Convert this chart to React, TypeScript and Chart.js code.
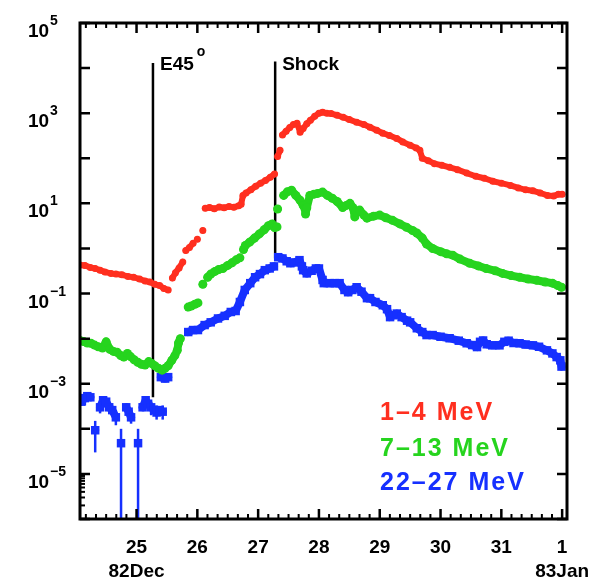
import React, { useEffect, useRef } from 'react';
import { Chart, registerables } from 'chart.js';

Chart.register(...registerables);

// ---------------- data (day of Dec 1982; 32 = 1 Jan 1983) ----------------
const redDay = [
  24.07, 24.15, 24.24, 24.32, 24.40, 24.48, 24.58, 24.66, 24.76, 24.86, 24.95, 25.05, 25.14, 25.22, 25.30, 25.38, 25.45, 25.52, 25.52,
  25.59, 25.64, 25.70, 25.76, 25.76,
  25.81, 25.87, 25.93, 25.93,
  26.00, 26.00,
  26.09, 26.09,
  26.13, 26.20, 26.28, 26.36, 26.44, 26.52, 26.60, 26.68, 26.72, 26.75, 26.80, 26.88, 26.96, 27.04, 27.12, 27.20, 27.27, 27.27,
  27.32, 27.36, 27.36,
  27.40, 27.46, 27.52, 27.58, 27.64, 27.69, 27.74, 27.80, 27.86, 27.93, 28.00, 28.06, 28.13, 28.20, 28.30, 28.40, 28.50, 28.62,
  28.74, 28.84, 28.95, 29.05, 29.16, 29.28, 29.38, 29.50, 29.60, 29.66, 29.70, 29.80, 29.90, 30.02, 30.15, 30.28, 30.43, 30.58,
  30.72, 30.86, 31.00, 31.15, 31.28, 31.40, 31.52, 31.64, 31.76, 31.86, 31.94, 32.00,
];
const redFlux = [
  0.43, 0.42, 0.38, 0.36, 0.33, 0.30, 0.28, 0.27, 0.26, 0.24, 0.23, 0.21, 0.19, 0.18, 0.16, 0.15, 0.13, 0.12, null,
  0.22, 0.29, 0.37, 0.50, null,
  0.90, 1.05, 1.3, null,
  1.6, null,
  2.5, null,
  7.8, 8.1, 7.6, 8.3, 8.0, 8.5, 8.2, 8.8, 9.5, 15, 17, 20, 24, 28, 32, 38, 45, null,
  110, 150, null,
  330, 400, 480, 560, 600, 380, 460, 580, 700, 850, 1000, 1050, 1000, 980, 900, 810, 720, 630,
  560, 490, 420, 360, 320, 275, 230, 195, 170, 150, 100, 88, 76, 70, 63, 56, 47, 40,
  36, 31, 28, 25, 22, 20, 19, 17, 15, 14.5, 16, 16,
];

const greenDay = [
  24.07, 24.13, 24.19, 24.25, 24.31, 24.37, 24.44, 24.50, 24.56, 24.62, 24.68, 24.74, 24.79, 24.85, 24.90, 24.96, 25.02, 25.08,
  25.14, 25.20, 25.25, 25.30, 25.36, 25.42, 25.47, 25.52, 25.58, 25.63, 25.67, 25.69, 25.72, 25.72,
  25.85, 25.90, 25.96, 26.01, 26.01,
  26.09, 26.09,
  26.17, 26.22, 26.29, 26.35, 26.42, 26.50, 26.57, 26.64, 26.70, 26.70,
  26.76, 26.79, 26.86, 26.94, 27.02, 27.10, 27.17, 27.23, 27.27, 27.31, 27.31,
  27.32, 27.32,
  27.42, 27.48, 27.55, 27.62, 27.69, 27.74, 27.77, 27.78, 27.80, 27.85, 27.92, 27.98, 28.06, 28.14, 28.22, 28.30, 28.39, 28.45,
  28.51, 28.56, 28.59, 28.61, 28.67, 28.74, 28.79, 28.90, 29.00, 29.10, 29.21, 29.33, 29.44, 29.54, 29.61, 29.70, 29.77, 29.87,
  30.00, 30.10, 30.20, 30.32, 30.48, 30.62, 30.75, 30.90, 31.02, 31.16, 31.30, 31.44, 31.58, 31.72, 31.84, 31.93, 31.99,
];
const greenFlux = [
  0.0091, 0.0086, 0.0080, 0.0079, 0.0072, 0.0066, 0.0062, 0.0085, 0.0058, 0.0052, 0.0050, 0.0042, 0.0039, 0.0047, 0.0040, 0.0034, 0.0030, 0.0027,
  0.0026, 0.0031, 0.0028, 0.0025, 0.0022, 0.0020, 0.0022, 0.0025, 0.0033, 0.0042, 0.0055, 0.0080, 0.010, null,
  0.050, 0.053, 0.058, 0.062, null,
  0.16, null,
  0.23, 0.27, 0.31, 0.34, 0.36, 0.42, 0.48, 0.56, 0.62, null,
  0.95, 1.17, 1.38, 1.7, 2.1, 2.6, 3.2, 3.5, 2.9, 3.0, null,
  7.5, null,
  15, 18, 19.5, 15, 11.7, 9, 7.6, 5.8, 8, 15, 16, 16.6, 17.8, 15, 13, 11, 8.1, 9,
  10, 8, 5.0, 6.5, 7.1, 5.5, 4.7, 5.2, 5.5, 4.8, 4.2, 3.5, 2.95, 2.5, 2.2, 1.7, 1.25, 1.0,
  0.85, 0.76, 0.71, 0.58, 0.47, 0.41, 0.36, 0.32, 0.28, 0.25, 0.23, 0.21, 0.197, 0.18, 0.17, 0.15, 0.138,
];

const blueDay = [
  24.09, 24.15, 24.19, 24.24, 24.24,
  24.32, 24.32,
  24.40, 24.45, 24.50, 24.55, 24.60, 24.66, 24.66,
  24.745, 24.745,
  24.83, 24.87, 24.91, 24.91,
  25.025, 25.025,
  25.10, 25.15, 25.19, 25.24, 25.29, 25.33, 25.38, 25.43, 25.43,
  25.40, 25.47, 25.52, 25.52,
  25.85, 25.93, 26.01, 26.12, 26.22, 26.34, 26.45, 26.55, 26.63, 26.70, 26.78, 26.87, 26.95, 27.03, 27.11, 27.19, 27.26, 27.26,
  27.33, 27.40, 27.47, 27.53, 27.60, 27.68, 27.72, 27.74, 27.80, 27.88, 27.95, 28.00, 28.06, 28.08, 28.18, 28.26, 28.34, 28.42,
  28.48, 28.55, 28.62, 28.70, 28.79, 28.84, 28.93, 29.05, 29.12, 29.17, 29.22, 29.28, 29.36, 29.45, 29.50, 29.61, 29.70, 29.77,
  29.87, 30.00, 30.15, 30.30, 30.43, 30.52, 30.60, 30.65, 30.70, 30.76, 30.85, 30.97, 31.05, 31.12, 31.20, 31.30, 31.40, 31.52,
  31.62, 31.75, 31.84, 31.91, 31.97, 31.99,
];
const blueFlux = [
  4.0e-4, 4.8e-4, 5.3e-4, 5.0e-4, null,
  9.3e-5, null,
  3.0e-4, 4.3e-4, 4.0e-4, 3.0e-4, 2.6e-4, 1.8e-4, null,
  4.8e-5, null,
  3.0e-4, 2.4e-4, 1.8e-4, null,
  4.8e-5, null,
  3.0e-4, 4.3e-4, 3.6e-4, 3.0e-4, 2.6e-4, 2.3e-4, 2.6e-4, 2.4e-4, null,
  1.4e-3, 1.3e-3, 1.4e-3, null,
  0.014, 0.0155, 0.0155, 0.020, 0.023, 0.028, 0.032, 0.039, 0.041, 0.065, 0.12, 0.17, 0.23, 0.27, 0.33, 0.36, 0.40, null,
  0.64, 0.60, 0.52, 0.47, 0.49, 0.55, 0.40, 0.33, 0.28, 0.32, 0.36, 0.36, 0.20, 0.17, 0.17, 0.17, 0.17, 0.12,
  0.107, 0.12, 0.138, 0.11, 0.079, 0.079, 0.065, 0.055, 0.045, 0.030, 0.033, 0.036, 0.030, 0.025, 0.023, 0.017, 0.014, 0.012,
  0.012, 0.011, 0.0102, 0.0090, 0.0079, 0.0072, 0.0065, 0.0085, 0.0091, 0.0075, 0.0071, 0.0071, 0.0085, 0.0090, 0.0080, 0.0079, 0.0074, 0.0071,
  0.0066, 0.0055, 0.0047, 0.0039, 0.0033, 0.0024,
];

// error bars on the early 22-27 MeV points
const blueErrDay = [24.15, 24.32, 24.40, 24.66, 24.745, 24.91, 25.025, 25.24, 25.33, 25.43];
const blueErrLow = [3.3e-4, 3.0e-5, 2.2e-4, 1.2e-4, 1e-8, 1.3e-4, 1e-8, 2.0e-4, 1.6e-4, 1.6e-4];
const blueErrHigh = [6.5e-4, 1.5e-4, 4.0e-4, 2.6e-4, 1.0e-4, 2.6e-4, 1.0e-4, 4.0e-4, 3.3e-4, 3.3e-4];

// axis ticks and labels
const dayTicks = [25, 26, 27, 28, 29, 30, 31, 32];
const dayLabels = ['25', '26', '27', '28', '29', '30', '31', '1'];
const monthDays = [25, 32];
const monthLabels = ['82Dec', '83Jan'];
const decadeExps = [-6, -5, -4, -3, -2, -1, 0, 1, 2, 3, 4, 5];
const labelExps = [5, 3, 1, -1, -3, -5];

// event markers
const markerDay = [25.27, 27.28];
const markerTop = [1.3e4, 1.4e4];
const markerBottom = [5e-4, 0.6];
const markerText = ['E45', 'Shock'];
const markerSup = ['o', ''];

const seriesNames = ['1\u20134 MeV', '7\u201313 MeV', '22\u201327 MeV'];
const RED = '#ff2f1f';
const GREEN = '#26d41e';
const BLUE = '#1630ff';
const seriesColors = [RED, GREEN, BLUE];

const FONT = '"Liberation Sans", Arial, sans-serif';

const zip = (xs: number[], ys: (number | null)[]) => xs.map((x, i) => ({ x, y: ys[i] }));

const decorPlugin = {
  id: 'decor',
  beforeDatasetsDraw(chart: any) {
    const { ctx, scales } = chart;
    const xs = scales.x, ys = scales.y;
    ctx.save();
    ctx.strokeStyle = '#000';
    ctx.lineWidth = 2.5;
    markerDay.forEach((d, i) => {
      const x = xs.getPixelForValue(d);
      ctx.beginPath();
      ctx.moveTo(x, ys.getPixelForValue(markerTop[i]));
      ctx.lineTo(x, ys.getPixelForValue(markerBottom[i]));
      ctx.stroke();
    });
    ctx.restore();
  },
  afterDatasetsDraw(chart: any) {
    const { ctx, scales, chartArea } = chart;
    const xs = scales.x, ys = scales.y;
    ctx.save();
    ctx.beginPath();
    ctx.rect(chartArea.left, chartArea.top, chartArea.right - chartArea.left, chartArea.bottom - chartArea.top);
    ctx.clip();
    ctx.strokeStyle = BLUE;
    ctx.lineWidth = 2.5;
    blueErrDay.forEach((d, i) => {
      const x = xs.getPixelForValue(d);
      ctx.beginPath();
      ctx.moveTo(x, ys.getPixelForValue(blueErrHigh[i]));
      ctx.lineTo(x, ys.getPixelForValue(blueErrLow[i]));
      ctx.stroke();
    });
    ctx.restore();
  },
  afterDraw(chart: any) {
    const { ctx, scales, chartArea } = chart;
    const xs = scales.x, ys = scales.y;
    const { left, right, top, bottom } = chartArea;
    ctx.save();
    ctx.strokeStyle = '#000';
    ctx.fillStyle = '#000';
    // frame
    ctx.lineWidth = 3;
    ctx.strokeRect(left, top, right - left, bottom - top);
    // y decade ticks
    ctx.lineWidth = 2.5;
    decadeExps.forEach((e) => {
      const y = ys.getPixelForValue(Math.pow(10, e));
      ctx.beginPath();
      ctx.moveTo(left, y); ctx.lineTo(left + 10, y);
      ctx.moveTo(right, y); ctx.lineTo(right - 10, y);
      ctx.stroke();
    });
    // minor ticks in the lowest decade (left axis)
    ctx.lineWidth = 2;
    for (let m = 2; m <= 9; m++) {
      const y = ys.getPixelForValue(m * 1e-6);
      ctx.beginPath();
      ctx.moveTo(left, y); ctx.lineTo(left + 5, y);
      ctx.stroke();
    }
    // x ticks every 4 hours
    const xmin = xs.min, xmax = xs.max;
    for (let k = Math.ceil(xmin * 6); k <= Math.floor(xmax * 6); k++) {
      const d = k / 6;
      const major = k % 6 === 0;
      const len = major ? 10 : 5;
      const x = xs.getPixelForValue(d);
      ctx.lineWidth = major ? 2.5 : 2;
      ctx.beginPath();
      ctx.moveTo(x, bottom); ctx.lineTo(x, bottom - len);
      ctx.moveTo(x, top); ctx.lineTo(x, top + len);
      ctx.stroke();
    }
    // x labels
    ctx.font = `bold 19px ${FONT}`;
    ctx.textAlign = 'center';
    ctx.textBaseline = 'alphabetic';
    dayTicks.forEach((d, i) => {
      ctx.fillText(dayLabels[i], xs.getPixelForValue(d), bottom + 34);
    });
    monthDays.forEach((d, i) => {
      ctx.fillText(monthLabels[i], xs.getPixelForValue(d), bottom + 58);
    });
    // y labels: 10^n
    ctx.textAlign = 'left';
    labelExps.forEach((e) => {
      const y = ys.getPixelForValue(Math.pow(10, e));
      ctx.font = `bold 19px ${FONT}`;
      ctx.fillText('10', 28, y + 14);
      ctx.font = `bold 14px ${FONT}`;
      ctx.fillText(e < 0 ? '\u2212' + Math.abs(e) : String(e), 50, y + 2);
    });
    // marker labels
    markerDay.forEach((d, i) => {
      const x = xs.getPixelForValue(d) + 7;
      ctx.font = `bold 19px ${FONT}`;
      ctx.fillText(markerText[i], x, 70);
      if (markerSup[i]) {
        const w = ctx.measureText(markerText[i]).width;
        ctx.font = `bold 14px ${FONT}`;
        ctx.fillText(markerSup[i], x + w + 3, 56);
      }
    });
    // series legend
    ctx.font = `bold 25px ${FONT}`;
    (ctx as any).letterSpacing = '2px';
    const legendBase = [420, 456, 490];
    seriesNames.forEach((name, i) => {
      ctx.fillStyle = seriesColors[i];
      ctx.fillText(name, 380, legendBase[i]);
    });
    ctx.restore();
  },
};

export default function App() {
  const canvasRef = useRef<HTMLCanvasElement | null>(null);

  useEffect(() => {
    const canvas = canvasRef.current;
    if (!canvas) return;
    const common = {
      pointBorderWidth: 0,
      tension: 0,
      spanGaps: false,
      borderJoinStyle: 'round',
      borderCapStyle: 'round',
    };
    const chart = new Chart(canvas, {
      type: 'line',
      data: {
        datasets: [
          {
            ...common,
            label: seriesNames[0],
            data: zip(redDay, redFlux),
            borderColor: RED,
            backgroundColor: RED,
            borderWidth: 6,
            pointRadius: 3.5,
            pointStyle: 'circle',
          },
          {
            ...common,
            label: seriesNames[1],
            data: zip(greenDay, greenFlux),
            borderColor: GREEN,
            backgroundColor: GREEN,
            borderWidth: 8,
            pointRadius: 4.5,
            pointStyle: 'circle',
          },
          {
            ...common,
            label: seriesNames[2],
            data: zip(blueDay, blueFlux),
            borderColor: BLUE,
            backgroundColor: BLUE,
            borderWidth: 8,
            pointRadius: 6,
            pointStyle: 'rect',
          },
        ],
      } as any,
      options: {
        animation: false,
        responsive: false,
        devicePixelRatio: 1,
        events: [],
        layout: { padding: { left: 80, right: 42, top: 23, bottom: 63 } },
        scales: {
          x: { type: 'linear', min: 24.07, max: 32.08, display: false },
          y: { type: 'logarithmic', min: 1e-6, max: 1e5, display: false },
        },
        plugins: { legend: { display: false }, tooltip: { enabled: false } },
      } as any,
      plugins: [decorPlugin],
    });
    return () => chart.destroy();
  }, []);

  return (
    <div style={{ position: 'absolute', left: 0, top: 0, width: 609, height: 582, background: '#fff' }}>
      <canvas ref={canvasRef} width={609} height={582} style={{ width: 609, height: 582, display: 'block' }} />
    </div>
  );
}
